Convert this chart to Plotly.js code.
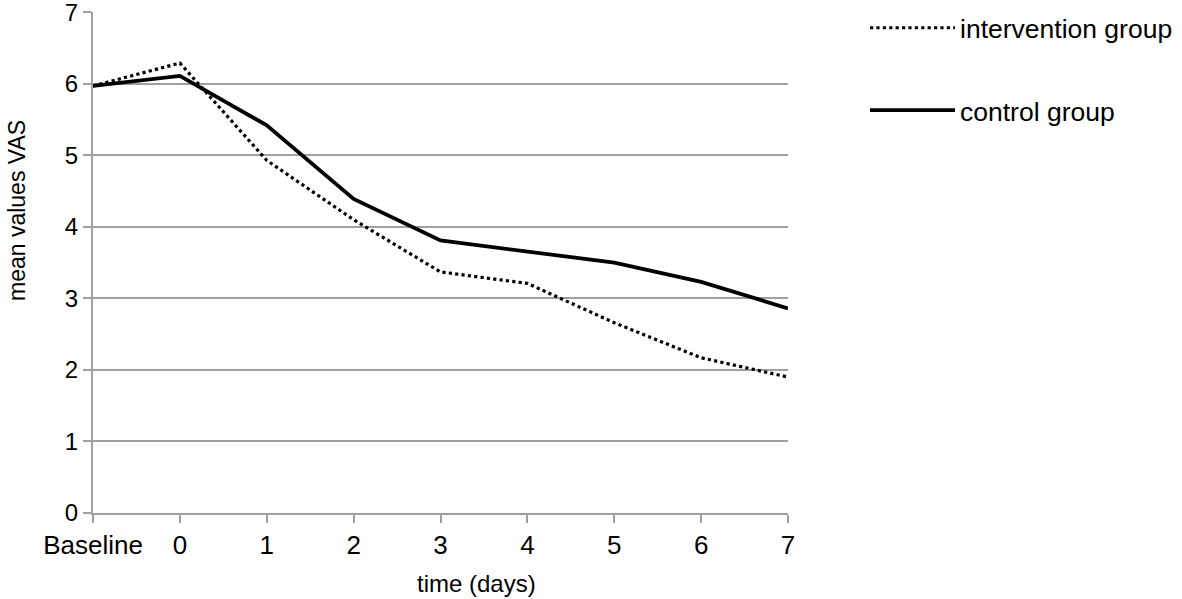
<!DOCTYPE html>
<html>
<head>
<meta charset="utf-8">
<script src="https://cdn.plot.ly/plotly-3.0.1.min.js"></script>
<style>html,body{margin:0;padding:0;background:#fff;}</style>
</head>
<body>
<div id="chart" style="width:1182px;height:599px;"></div>
<script>
var categories = ["Baseline", "0", "1", "2", "3", "4", "5", "6", "7"];
var intervention = [5.97, 6.29, 4.93, 4.10, 3.37, 3.21, 2.66, 2.17, 1.90];
var control = [5.97, 6.11, 5.42, 4.39, 3.81, 3.66, 3.50, 3.23, 2.86];
var yTicks = [0, 1, 2, 3, 4, 5, 6, 7];
var xTitle = "time (days)";
var yTitle = "mean values VAS";

var xIdx = categories.map(function (c, i) { return i; });

var traces = [
  {
    x: xIdx, y: intervention, type: "scatter", mode: "lines",
    name: "intervention group", legendgroup: "a",
    line: {color: "#000", width: 3.2, dash: "dot"}
  },
  {
    x: xIdx, y: control, type: "scatter", mode: "lines",
    name: "control group", legendgroup: "b",
    line: {color: "#000", width: 3.8}
  }
];

var fam = "Liberation Sans, Arial, sans-serif";

var layout = {
  width: 1182, height: 599,
  margin: {l: 93, r: 394, t: 12, b: 86, autoexpand: false},
  paper_bgcolor: "#fff", plot_bgcolor: "#fff",
  font: {family: fam, size: 24, color: "#000"},
  showlegend: true,
  legend: {
    xref: "container", yref: "container",
    x: 865 / 1182, y: 1 - 4 / 599, xanchor: "left", yanchor: "top",
    traceorder: "grouped", tracegroupgap: 45,
    itemwidth: 85,
    font: {family: fam, size: 26.5, color: "#000"},
    bgcolor: "rgba(0,0,0,0)"
  },
  xaxis: {
    range: [0, 8],
    tickmode: "array", tickvals: xIdx, ticktext: categories,
    showgrid: false, zeroline: false,
    showline: true, linecolor: "#a0a0a0", linewidth: 2,
    ticks: "outside", ticklen: 8, tickcolor: "#a0a0a0", tickwidth: 2,
    tickfont: {family: fam, size: 26, color: "#000"},
    ticklabeloverflow: "allow",
    fixedrange: true
  },
  yaxis: {
    range: [0, 7.004],
    tickmode: "array", tickvals: yTicks,
    showgrid: true, gridcolor: "#a0a0a0", gridwidth: 2,
    zeroline: false,
    showline: true, linecolor: "#a0a0a0", linewidth: 2,
    ticks: "outside", ticklen: 8, tickcolor: "#a0a0a0", tickwidth: 2,
    tickfont: {family: fam, size: 24, color: "#000"},
    ticklabeloverflow: "allow",
    fixedrange: true
  },
  annotations: [
    {
      text: xTitle, xref: "paper", yref: "paper",
      x: (476 - 93) / 695, y: -(583 - 513) / 501,
      xanchor: "center", yanchor: "middle", showarrow: false,
      font: {family: fam, size: 24, color: "#000"}
    },
    {
      text: yTitle, xref: "paper", yref: "paper",
      x: -(93 - 17) / 695, y: (513 - 211) / 501,
      xanchor: "center", yanchor: "middle", showarrow: false, textangle: -90,
      font: {family: fam, size: 23, color: "#000"}
    }
  ]
};

Plotly.newPlot("chart", traces, layout, {displayModeBar: false, staticPlot: true});
</script>
</body>
</html>
